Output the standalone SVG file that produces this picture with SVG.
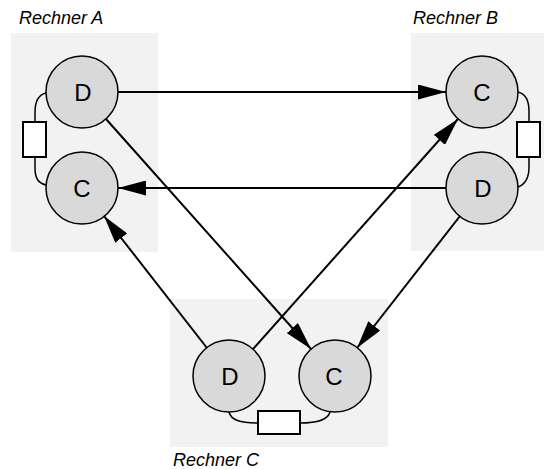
<svg xmlns="http://www.w3.org/2000/svg" width="545" height="469" viewBox="0 0 545 469">
  <defs>
    <marker id="arrow" viewBox="0 0 28 15" refX="28" refY="7.5" markerWidth="28" markerHeight="15" markerUnits="userSpaceOnUse" orient="auto">
      <path d="M0,0 L28,7.5 L0,15 Z" fill="#000"/>
    </marker>
  </defs>
  <style>
    .host { fill: #f2f2f2; stroke: none; }
    .hostlabel { font-family: "Liberation Sans", Arial, sans-serif; font-style: italic; font-size: 18px; fill: #000; }
    .proc { fill: #d9d9d9; stroke: #000; stroke-width: 1.5; }
    .proclabel { font-family: "Liberation Sans", Arial, sans-serif; font-size: 24px; fill: #000; text-anchor: middle; }
    .link { fill: none; stroke: #000; stroke-width: 1.5; }
    .store { fill: #fff; stroke: #000; stroke-width: 2; }
    .conn { fill: none; stroke: #000; stroke-width: 2; marker-end: url(#arrow); }
  </style>

  <!-- host computers -->
  <g id="rechner-a">
    <rect class="host" x="11" y="33" width="147" height="219"/>
    <text class="hostlabel" x="19" y="24">Rechner A</text>
  </g>
  <g id="rechner-b">
    <rect class="host" x="411" y="33" width="133" height="218"/>
    <text class="hostlabel" x="413" y="24">Rechner B</text>
  </g>
  <g id="rechner-c">
    <rect class="host" x="170" y="299" width="218" height="148"/>
    <text class="hostlabel" x="173" y="466">Rechner C</text>
  </g>

  <!-- local links between processes through a shared store -->
  <g id="link-a">
    <path class="link" d="M46,93 C38,95 35,102 35,112 V122 M35,157 V168 C35,178 38,183 46,185"/>
    <rect class="store" x="23" y="122" width="23" height="35"/>
  </g>
  <g id="link-b">
    <path class="link" d="M518,92 C526,94 529,101 529,111 V122 M529,157 V167 C529,177 526,184 518,187"/>
    <rect class="store" x="517" y="122" width="23" height="35"/>
  </g>
  <g id="link-c">
    <path class="link" d="M229,412 C231,420 240,423 258,423 M300,423 C318,423 328,420 330,412"/>
    <rect class="store" x="258" y="411" width="42" height="23"/>
  </g>

  <!-- processes -->
  <g id="a-d">
    <circle class="proc" cx="82" cy="92" r="36"/>
    <text class="proclabel" x="83" y="100.5">D</text>
  </g>
  <g id="a-c">
    <circle class="proc" cx="82" cy="188" r="36"/>
    <text class="proclabel" x="82" y="196.5">C</text>
  </g>
  <g id="b-c">
    <circle class="proc" cx="482" cy="92" r="36"/>
    <text class="proclabel" x="482" y="100.5">C</text>
  </g>
  <g id="b-d">
    <circle class="proc" cx="482" cy="188" r="36"/>
    <text class="proclabel" x="483" y="196.5">D</text>
  </g>
  <g id="c-d">
    <circle class="proc" cx="229" cy="376" r="36"/>
    <text class="proclabel" x="230" y="384.5">D</text>
  </g>
  <g id="c-c">
    <circle class="proc" cx="335" cy="376" r="36"/>
    <text class="proclabel" x="334" y="384.5">C</text>
  </g>

  <!-- connections between hosts -->
  <g id="connectors">
    <line class="conn" x1="118" y1="92" x2="446" y2="92"/>
    <line class="conn" x1="446" y1="188" x2="118" y2="188"/>
    <line class="conn" x1="106" y1="119" x2="311" y2="349"/>
    <line class="conn" x1="253" y1="349" x2="458" y2="119"/>
    <line class="conn" x1="207" y1="348" x2="104" y2="216"/>
    <line class="conn" x1="460" y1="216" x2="357" y2="348"/>
  </g>
</svg>
